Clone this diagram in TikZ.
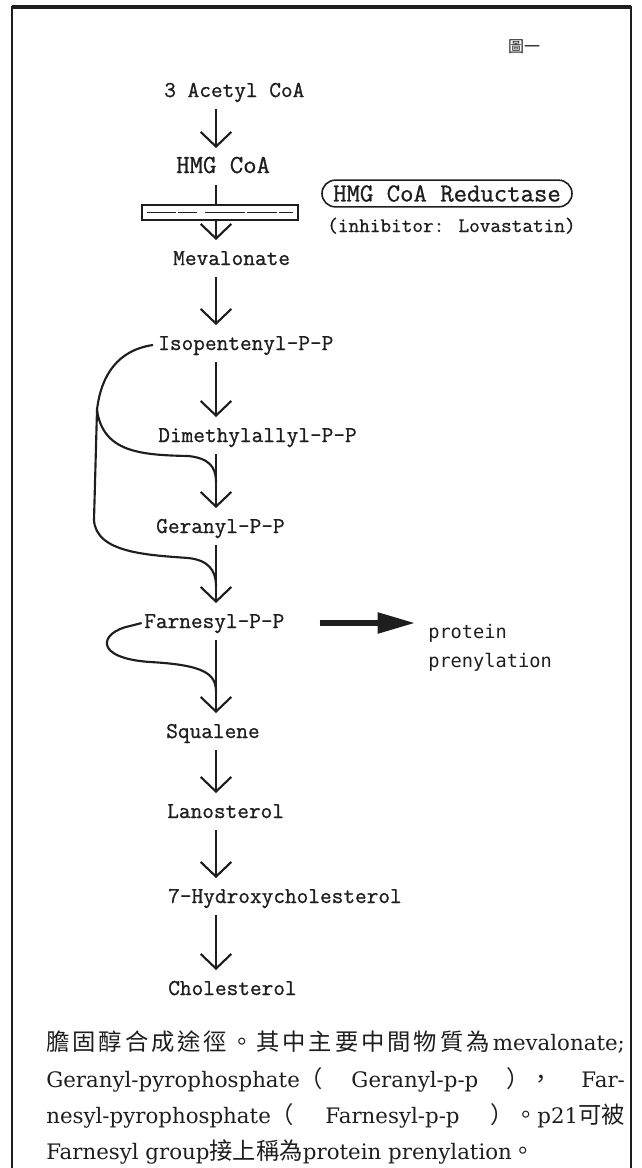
\documentclass[tikz,border=0pt]{standalone}
\usepackage{fontspec}
\usepackage{tikz}
\usetikzlibrary{arrows.meta}
\newfontfamily\cjk{Noto Sans CJK TC}
\newfontfamily\capserif{DejaVu Serif}
\newfontfamily\gothicmono{DejaVu Sans Mono}
\newfontfamily\chemfont{Latin Modern Mono}[FakeBold=0.9]
\definecolor{ink}{RGB}{30,30,30}
\newcommand{\cjkcap}{\cjk\fontsize{17.5}{20}\selectfont}
% spread the CJK characters of a caption line
\def\spreadcjk#1{\spreadcjkloop#1\relax}
\def\spreadcjkloop#1{\ifx\relax#1\else#1\hskip 0pt plus 1fil\expandafter\spreadcjkloop\fi}

\tikzset{
  chemtext/.style={anchor=west, inner xsep=0.75pt, inner ysep=5.5pt, text height=11pt, text depth=3.5pt, text=ink, font=\chemfont\fontsize{17}{20}\selectfont},
  pathway/.style={draw=ink, line width=1.6pt, -{Straight Barb[length=11pt,width=23pt,line width=1.6pt]}, shorten >=2pt},
  sidepath/.style={draw=ink, line width=1.6pt},
  captionline/.style={anchor=base west, inner sep=0pt, text=ink, font=\capserif\fontsize{16}{18}\selectfont},
}

\begin{document}
\begin{tikzpicture}[x=0.75pt,y=0.75pt,yscale=-1,xscale=1]
\useasboundingbox (0,0) rectangle (642,1168);

%Shape: Frame
\draw [ink, line width=1.5pt] (12,1175) -- (12,7) -- (631,7) -- (631,1175) ;
\draw [ink, line width=2.5pt] (12,7) -- (631,7) ;

% Text Node
\draw (524,47) node (fig) [inner sep=0.75pt] [text=ink, font=\cjk\fontsize{12}{14}\selectfont] {圖一};

% Text Node
\draw (163,92) node (acetyl) [chemtext] {3 Acetyl CoA};
% Text Node
\draw (175,168) node (hmg) [chemtext] [font=\chemfont\fontsize{19.5}{22}\selectfont] {HMG CoA};
% Text Node
\draw (172,260) node (mev) [chemtext] {Mevalonate};
% Text Node
\draw (157,345) node (ipp) [chemtext] {Isopentenyl-P-P};
% Text Node
\draw (157,437) node (dmapp) [chemtext] {Dimethylallyl-P-P};
% Text Node
\draw (155,528) node (gpp) [chemtext] {Geranyl-P-P};
% Text Node
\draw (143,623) node (fpp) [chemtext] {Farnesyl-P-P};
% Text Node
\draw (165,733) node (squ) [chemtext] {Squalene};
% Text Node
\draw (166,813) node (lan) [chemtext] {Lanosterol};
% Text Node
\draw (167,898) node (hyd) [chemtext] {7-Hydroxycholesterol};
% Text Node
\draw (167,990) node (chol) [chemtext] {Cholesterol};

%Shape: Rectangle (block on the pathway)
\draw (220,212.5) node (block) [draw=ink, line width=1.2pt, minimum width=117pt, minimum height=11pt, inner sep=0pt] {};
\draw [ink, line width=0.9pt, dash pattern=on 22pt off 1.5pt on 14pt off 6pt on 30pt off 2pt] ([xshift=4pt]block.west) -- ([xshift=-4pt]block.east) ;

% Text Node
\draw (447,193.5) node (reductase) [draw=ink, line width=1.2pt, rounded corners=10pt, minimum width=187.5pt, minimum height=20pt, inner sep=0pt] [text=ink, font=\chemfont\fontsize{19.5}{22}\selectfont] {HMG CoA Reductase};
% Text Node
\draw (326,227) node (inhib) [chemtext] [font=\chemfont\fontsize{15.5}{18}\selectfont] {(inhibitor: Lovastatin)};

% Text Node
\draw (427,633) node (prot) [anchor=west, inner sep=0.75pt] [text=ink, font=\gothicmono\fontsize{14}{18}\selectfont] {protein};
% Text Node
\draw (427,662) node (prenyl) [anchor=west, inner sep=0.75pt] [text=ink, font=\gothicmono\fontsize{14}{18}\selectfont] {prenylation};

\coordinate (col) at (216,0);

%Straight Lines [pathway]
\draw [pathway] (acetyl.south -| col) -- (hmg.north -| col) ;
\draw [sidepath] (hmg.south -| col) -- (block.north -| col) ;
\draw [pathway] (block.south -| col) -- (mev.north -| col) ;
\draw [pathway] (mev.south -| col) -- (ipp.north -| col) ;
\draw [pathway] (ipp.south -| col) -- (dmapp.north -| col) ;
\draw [pathway] (dmapp.south -| col) -- (gpp.north -| col) ;
\draw [pathway] (gpp.south -| col) -- (fpp.north -| col) ;
\draw [pathway] (fpp.south -| col) -- (squ.north -| col) ;
\draw [pathway] (squ.south -| col) -- (lan.north -| col) ;
\draw [pathway] (lan.south -| col) -- (hyd.north -| col) ;
\draw [pathway] (hyd.south -| col) -- (chol.north -| col) ;

%Straight Lines [thick arrow]
\draw [draw=ink, fill=ink, line width=4pt, -{Triangle[length=28pt,width=15pt]}, shorten <=25.5pt, shorten >=9pt] (fpp.east) -- (fpp.east -| prot.west) ;

%Curve Lines
\coordinate (fork) at (97,410);
\coordinate (joinG) at (216,482);
\coordinate (joinF) at (216,586);
\coordinate (joinS) at (216,692);
\draw [sidepath] ([xshift=-3pt]ipp.west) .. controls (118,350) and (101,375) .. (fork) ;
\draw [sidepath] (fork) .. controls (103,452) and (140,455) .. (188,456) .. controls (208,458) and (216,466) .. (joinG) ;
\draw [sidepath] (fork) -- (94,520) .. controls (96,553) and (148,555) .. (188,558) .. controls (208,560) and (216,570) .. (joinF) ;
\draw [sidepath] ([xshift=-1pt]fpp.west) -- (130,626) .. controls (100,632) and (92,658) .. (150,662) .. controls (205,665) and (216,674) .. (joinS) ;

% Text Node
\draw (46,1050) node (cap1) [captionline] {\makebox[434pt][s]{{\cjkcap\spreadcjk{膽固醇合成途徑。其中主要中間物質為}}mevalonate;}};
% Text Node
\draw (46,1087) node (cap2) [captionline] {\makebox[434pt][s]{Geranyl-pyrophosphate{\cjkcap （} Geranyl-p-p {\cjkcap ），} Far-}};
% Text Node
\draw (46,1123) node (cap3) [captionline] {\makebox[434pt][s]{nesyl-pyrophosphate{\cjkcap （} Farnesyl-p-p {\cjkcap ）。}p21{\cjkcap 可被}}};
% Text Node
\draw (46,1159) node (cap4) [captionline] {Farnesyl group{\cjkcap 接上稱為}protein prenylation{\cjkcap 。}};

\end{tikzpicture}
\end{document}
